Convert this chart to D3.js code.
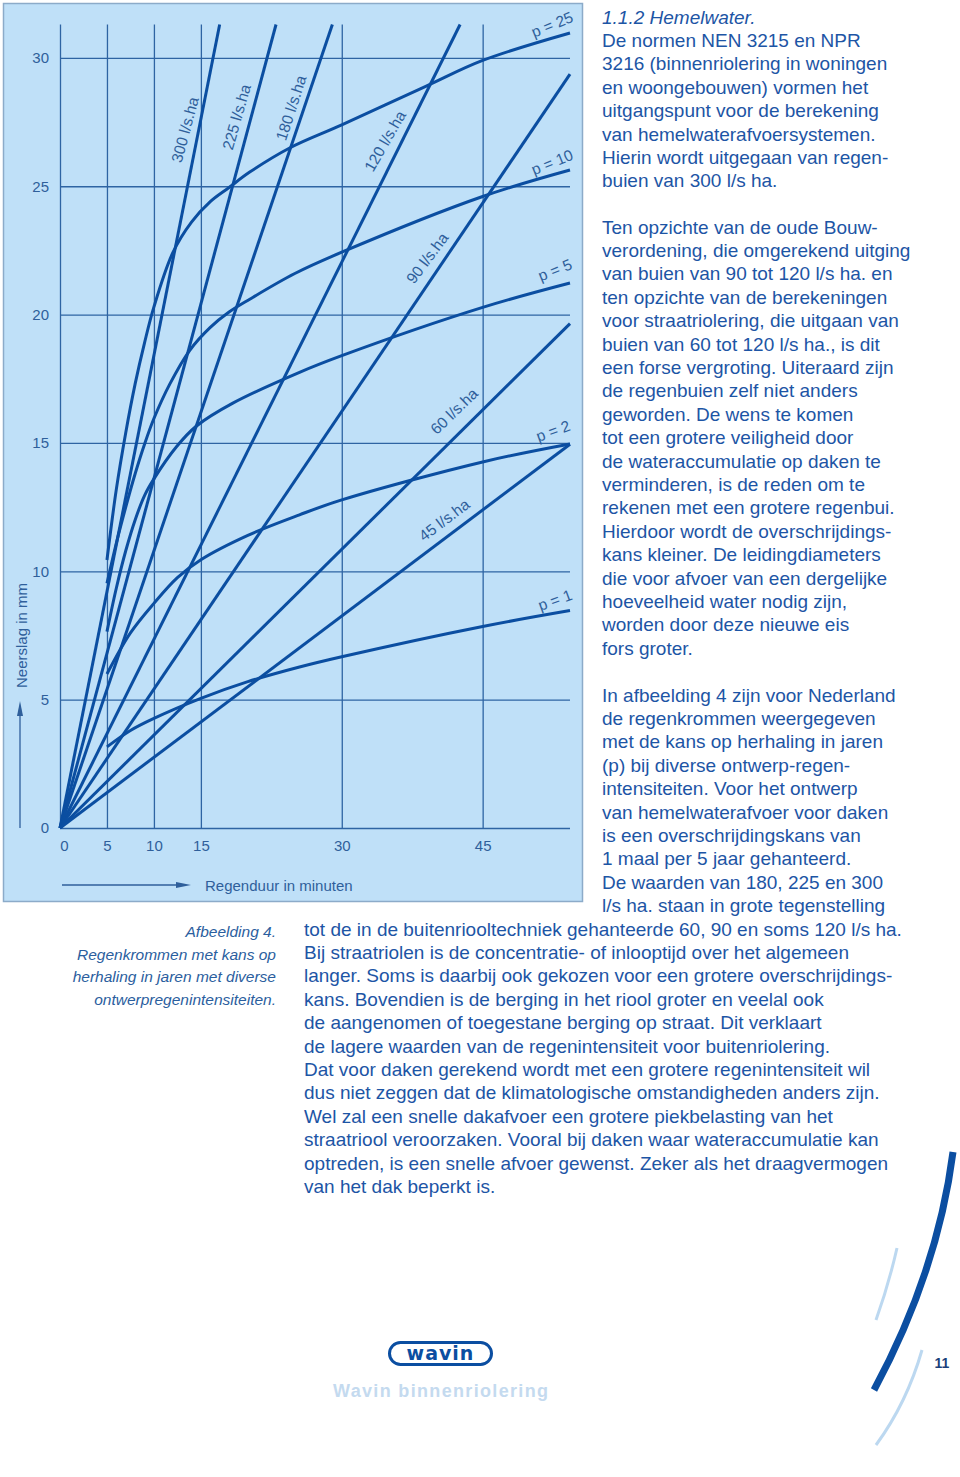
<!DOCTYPE html>
<html>
<head>
<meta charset="utf-8">
<script src="https://cdn.jsdelivr.net/npm/d3@7"></script>
<style>
  body { margin: 0; background: #fff; }
  svg { display: block; font-family: 'Liberation Sans', Arial, Helvetica, sans-serif; }
</style>
</head>
<body>
<svg></svg>
<script>
// duration in minutes, rainfall in mm
const xTicks = [0, 5, 10, 15, 30, 45];
const yTicks = [0, 5, 10, 15, 20, 25, 30];

const periods = ['p = 1', 'p = 2', 'p = 5', 'p = 10', 'p = 25'];
const curveP1 = [[5, 3.16], [7.5, 3.8], [10, 4.27], [15, 5.05], [20, 5.7], [25.5, 6.27], [30, 6.67], [45, 7.85], [54.3, 8.47]];
const curveP2 = [[5, 6.0], [7.5, 7.6], [10, 8.75], [12.5, 9.75], [15, 10.45], [20, 11.4], [25.5, 12.2], [30, 12.78], [45, 14.26], [54.3, 14.96]];
const curveP5 = [[5, 7.65], [6, 9.35], [7, 10.8], [8, 12.0], [9, 12.95], [10, 13.6], [12.4, 14.85], [14.5, 15.65], [18.4, 16.55], [25.5, 17.75], [30, 18.4], [45, 20.28], [54.3, 21.23]];
const curveP10 = [[5, 9.53], [6, 11.1], [7, 12.5], [8, 13.8], [9, 14.95], [10, 15.95], [11.7, 17.3], [13.8, 18.6], [16, 19.5], [18, 20.1], [20.2, 20.6], [25, 21.6], [30, 22.43], [45, 24.6], [54.3, 25.63]];
const curveP25 = [[5, 10.44], [6, 13.2], [7, 15.4], [8, 17.3], [9, 18.9], [10, 20.3], [12, 22.4], [14, 23.6], [16, 24.4], [18, 24.95], [20.2, 25.55], [24.5, 26.5], [30, 27.39], [39, 28.9], [45, 29.9], [54.3, 30.97]];

const intensities = ['300 l/s.ha', '225 l/s.ha', '180 l/s.ha', '120 l/s.ha', '90 l/s.ha', '60 l/s.ha', '45 l/s.ha'];
const intensityEnds = [[17.0, 31.3], [23.0, 31.3], [29.0, 31.3], [42.6, 31.3], [54.3, 29.37], [54.3, 19.65], [54.3, 14.95]];

// where the labels sit (data units) and their tilt
const intensityLabelSpots = [[13.3, 27.2, -75], [18.8, 27.7, -74], [24.6, 28.05, -72], [34.6, 26.76, -60], [39.1, 22.2, -53], [41.95, 16.24, -44], [40.9, 12.0, -37]];
const periodLabelSpots = [[52.7, 8.88, -20], [52.5, 15.47, -20], [52.7, 21.74, -22], [52.4, 25.94, -22], [52.4, 31.3, -22]];

const blue = '#0b4ea1';
const gridBlue = '#2e64a3';
const labelBlue = '#2f5f9b';
const textBlue = '#1d55a5';

let svg = d3.select('svg')
            .attr('width', 960)
            .attr('height', 1477);

svg.append('rect')
    .attr('x', 3.5)
    .attr('y', 3.5)
    .attr('width', 579)
    .attr('height', 898)
    .attr('fill', '#bfe0f8')
    .attr('stroke', '#8cabc9')
    .attr('stroke-width', 1.5);

let x = d3.scaleLinear().domain([0, 54.3]).range([60, 570]);
let y = d3.scaleLinear().domain([0, 31.3]).range([828, 24.5]);

let yAxis = svg.append('g')
  .attr('transform', `translate(${x(0)},0)`)
  .call(d3.axisLeft(y).tickValues(yTicks).tickSize(-(x(54.3) - x(0))).tickPadding(11));

let xAxis = svg.append('g')
  .attr('transform', `translate(0,${y(0)})`)
  .call(d3.axisBottom(x).tickValues(xTicks).tickSize(-(y(0) - y(31.3))).tickPadding(12));

[xAxis, yAxis].forEach(g => {
  g.select('.domain').remove();
  g.selectAll('line').attr('stroke', gridBlue).attr('stroke-width', 1.3);
  g.selectAll('text')
    .attr('fill', labelBlue)
    .style('font-size', '15px')
    .style('font-family', "'Liberation Sans', Arial, sans-serif");
});
xAxis.selectAll('.tick text').filter(d => d === 0).attr('dx', 4);

let line = d3.line()
             .x(d => x(d[0]))
             .y(d => y(d[1]));

let curveLine = d3.line()
                  .x(d => x(d[0]))
                  .y(d => y(d[1]))
                  .curve(d3.curveCatmullRom.alpha(0.5));

svg.append('g')
  .selectAll('path')
  .data(intensityEnds)
  .enter()
  .append('path')
    .attr('d', d => line([[0, 0], d]))
    .attr('fill', 'none')
    .attr('stroke', blue)
    .attr('stroke-width', 3);

svg.append('g')
  .selectAll('path')
  .data([curveP1, curveP2, curveP5, curveP10, curveP25])
  .enter()
  .append('path')
    .attr('d', d => curveLine(d))
    .attr('fill', 'none')
    .attr('stroke', blue)
    .attr('stroke-width', 3)
    .attr('stroke-linejoin', 'round');

svg.append('g')
  .selectAll('text')
  .data(intensities)
  .enter()
  .append('text')
    .attr('transform', (d, i) => {
      let s = intensityLabelSpots[i];
      return `translate(${x(s[0])},${y(s[1])}) rotate(${s[2]})`;
    })
    .attr('text-anchor', 'middle')
    .attr('dy', '0.35em')
    .attr('fill', labelBlue)
    .style('font-size', '15.5px')
    .text(d => d);

svg.append('g')
  .selectAll('text')
  .data(periods)
  .enter()
  .append('text')
    .attr('transform', (d, i) => {
      let s = periodLabelSpots[i];
      return `translate(${x(s[0])},${y(s[1])}) rotate(${s[2]})`;
    })
    .attr('text-anchor', 'middle')
    .attr('dy', '0.35em')
    .attr('fill', labelBlue)
    .style('font-size', '15.5px')
    .text(d => d);

// axis titles with arrows
svg.append('text')
    .attr('transform', 'translate(27,688) rotate(-90)')
    .attr('fill', labelBlue)
    .style('font-size', '15px')
    .text('Neerslag in mm');

svg.append('line')
    .attr('x1', 20).attr('y1', 828)
    .attr('x2', 20).attr('y2', 712)
    .attr('stroke', labelBlue)
    .attr('stroke-width', 1.3);
svg.append('path')
    .attr('d', 'M20,701 L17,716 L23,716 Z')
    .attr('fill', labelBlue);

svg.append('line')
    .attr('x1', 62).attr('y1', 885)
    .attr('x2', 180).attr('y2', 885)
    .attr('stroke', labelBlue)
    .attr('stroke-width', 1.3);
svg.append('path')
    .attr('d', 'M191,885 L176,882 L176,888 Z')
    .attr('fill', labelBlue);

svg.append('text')
    .attr('x', 205)
    .attr('y', 891)
    .attr('fill', labelBlue)
    .style('font-size', '15px')
    .text('Regenduur in minuten');

// caption
const caption = [
  'Afbeelding 4.',
  'Regenkrommen met kans op',
  'herhaling in jaren met diverse',
  'ontwerpregenintensiteiten.'
];
svg.append('g')
  .selectAll('text')
  .data(caption)
  .enter()
  .append('text')
    .attr('x', 276)
    .attr('y', (d, i) => 937 + i * 22.7)
    .attr('text-anchor', 'end')
    .attr('fill', '#2b5e9e')
    .style('font-size', '15.5px')
    .style('font-style', 'italic')
    .text(d => d);

// body text
const para1 = [
  'De normen NEN 3215 en NPR',
  '3216 (binnenriolering in woningen',
  'en woongebouwen) vormen het',
  'uitgangspunt voor de berekening',
  'van hemelwaterafvoersystemen.',
  'Hierin wordt uitgegaan van regen-',
  'buien van 300 l/s ha.'
];
const para2 = [
  'Ten opzichte van de oude Bouw-',
  'verordening, die omgerekend uitging',
  'van buien van 90 tot 120 l/s ha. en',
  'ten opzichte van de berekeningen',
  'voor straatriolering, die uitgaan van',
  'buien van 60 tot 120 l/s ha., is dit',
  'een forse vergroting. Uiteraard zijn',
  'de regenbuien zelf niet anders',
  'geworden. De wens te komen',
  'tot een grotere veiligheid door',
  'de wateraccumulatie op daken te',
  'verminderen, is de reden om te',
  'rekenen met een grotere regenbui.',
  'Hierdoor wordt de overschrijdings-',
  'kans kleiner. De leidingdiameters',
  'die voor afvoer van een dergelijke',
  'hoeveelheid water nodig zijn,',
  'worden door deze nieuwe eis',
  'fors groter.'
];
const para3 = [
  'In afbeelding 4 zijn voor Nederland',
  'de regenkrommen weergegeven',
  'met de kans op herhaling in jaren',
  '(p) bij diverse ontwerp-regen-',
  'intensiteiten. Voor het ontwerp',
  'van hemelwaterafvoer voor daken',
  'is een overschrijdingskans van',
  '1 maal per 5 jaar gehanteerd.',
  'De waarden van 180, 225 en 300',
  'l/s ha. staan in grote tegenstelling',
  'tot de in de buitenriooltechniek gehanteerde 60, 90 en soms 120 l/s ha.',
  'Bij straatriolen is de concentratie- of inlooptijd over het algemeen',
  'langer. Soms is daarbij ook gekozen voor een grotere overschrijdings-',
  'kans. Bovendien is de berging in het riool groter en veelal ook',
  'de aangenomen of toegestane berging op straat. Dit verklaart',
  'de lagere waarden van de regenintensiteit voor buitenriolering.',
  'Dat voor daken gerekend wordt met een grotere regenintensiteit wil',
  'dus niet zeggen dat de klimatologische omstandigheden anders zijn.',
  'Wel zal een snelle dakafvoer een grotere piekbelasting van het',
  'straatriool veroorzaken. Vooral bij daken waar wateraccumulatie kan',
  'optreden, is een snelle afvoer gewenst. Zeker als het draagvermogen',
  'van het dak beperkt is.'
];

let body = svg.append('g')
  .attr('fill', textBlue)
  .style('font-size', '19px');

body.append('text')
    .attr('x', 602)
    .attr('y', 23.5)
    .style('font-style', 'italic')
    .text('1.1.2  Hemelwater.');

function writeLines(lines, top, xFor) {
  body.append('g')
    .selectAll('text')
    .data(lines)
    .enter()
    .append('text')
      .attr('x', (d, i) => xFor(i))
      .attr('y', (d, i) => top + i * 23.4)
      .text(d => d);
}
writeLines(para1, 46.9, () => 602);
writeLines(para2, 233.5, () => 602);
writeLines(para3, 701.5, i => i < 10 ? 602 : 304);

// footer
svg.append('rect')
    .attr('x', 389.5)
    .attr('y', 1342.5)
    .attr('width', 102)
    .attr('height', 22)
    .attr('rx', 11)
    .attr('fill', '#fff')
    .attr('stroke', blue)
    .attr('stroke-width', 3);
svg.append('text')
    .attr('x', 440.5)
    .attr('y', 1360)
    .attr('text-anchor', 'middle')
    .attr('fill', blue)
    .style('font-family', "'DejaVu Sans', sans-serif")
    .style('font-weight', 'bold')
    .style('font-size', '19px')
    .style('letter-spacing', '1px')
    .text('wavin');
svg.append('text')
    .attr('x', 333)
    .attr('y', 1397)
    .attr('textLength', 215)
    .attr('lengthAdjust', 'spacing')
    .attr('fill', '#c4daef')
    .style('font-weight', 'bold')
    .style('font-size', '18px')
    .text('Wavin binnenriolering');

svg.append('text')
    .attr('x', 942)
    .attr('y', 1368)
    .attr('text-anchor', 'middle')
    .attr('fill', '#1b3f7a')
    .style('font-weight', 'bold')
    .style('font-size', '14px')
    .text('11');

svg.append('path')
    .attr('d', 'M953,1152 C943,1230 916,1312 874,1390')
    .attr('fill', 'none')
    .attr('stroke', blue)
    .attr('stroke-width', 7);
svg.append('path')
    .attr('d', 'M897,1248 C892,1270 886,1292 876,1320')
    .attr('fill', 'none')
    .attr('stroke', '#bcd8f0')
    .attr('stroke-width', 3);
svg.append('path')
    .attr('d', 'M922,1350 C912,1385 898,1415 876,1445')
    .attr('fill', 'none')
    .attr('stroke', '#bcd8f0')
    .attr('stroke-width', 3);
</script>
</body>
</html>
